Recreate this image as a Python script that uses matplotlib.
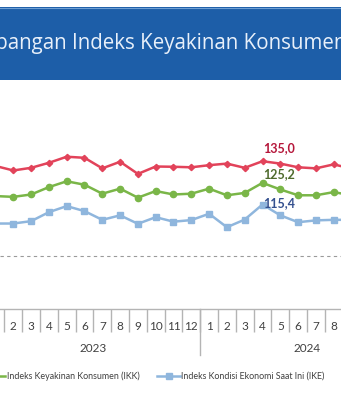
import matplotlib
matplotlib.use("Agg")
import matplotlib.pyplot as plt
from matplotlib.patches import Rectangle
from matplotlib.lines import Line2D

# months Jan 2023 .. Sep 2024
month_labels = [str(m) for m in range(1, 13)] + [str(m) for m in range(1, 13)]
years = ["2023", "2024"]

iek = [134.1, 132.4, 133.4, 135.3, 137.6, 137.2, 133.2, 135.7, 131.1, 133.9, 133.8, 133.6,
       134.4, 135.0, 133.4, 135.9, 135.0, 133.6, 133.2, 134.7, 133.1]
ikk = [122.7, 122.4, 123.3, 126.1, 128.3, 127.0, 123.6, 125.5, 122.1, 124.6, 123.3, 123.6,
       125.5, 123.0, 123.9, 127.7, 125.2, 123.0, 123.0, 124.2, 123.0]
ike = [112.3, 112.3, 113.2, 116.6, 118.9, 117.0, 113.7, 115.4, 112.2, 114.7, 113.0, 113.6,
       116.0, 110.9, 113.8, 119.5, 115.4, 112.8, 113.5, 113.7, 113.7]

labelled_idx = 16  # Mei 2024
threshold = 100

W, H = 341, 400
fig = plt.figure(figsize=(W / 100, H / 100), dpi=100)
fig.patch.set_facecolor("white")

def fx(px):
    return px / W

def fy(py):
    return 1 - py / H

# title banner
fig.patches.append(Rectangle((0, fy(80)), 1, fy(7) - fy(80), transform=fig.transFigure,
                             facecolor="#1d5ea8", edgecolor="none"))
fig.lines.append(Line2D([0, 1], [fy(7.5), fy(7.5)], transform=fig.transFigure,
                        color="#6f9fd3", lw=0.8))

title_font = dict(fontsize=14.8, family="Open Sans", color="#e8f0fa")
r = fig.canvas.get_renderer()
t1 = fig.text(0, 0, "Perkembangan Indeks", **title_font)
t2 = fig.text(0, 0, "Indeks", **title_font)
pre_w = t1.get_window_extent(r).width - t2.get_window_extent(r).width
t1.remove()
t2.remove()
fig.text(fx(71.7 - pre_w), fy(44), "Perkembangan Indeks Keyakinan Konsumen",
         va="center", ha="left", **title_font)

# chart area
ax_top, ax_bot = 100, 308.8
ax = fig.add_axes([0, fy(ax_bot), 1, fy(ax_top) - fy(ax_bot)])
x = list(range(len(iek)))
ax.plot(x, iek, color="#e2435a", lw=1.8, marker="D", ms=3.2)
ax.plot(x, ikk, color="#7ab648", lw=1.8, marker="o", ms=4.5)
ax.plot(x, ike, color="#8fb6dd", lw=1.8, marker="s", ms=4.2)
ax.axhline(threshold, color="#9a9a9a", lw=0.8, ls=(0, (3, 3)))

ax.text(x[labelled_idx] - 0.05, iek[labelled_idx] + 6.0, f"{iek[labelled_idx]:.1f}".replace(".", ","),
        color="#b5163a", fontsize=9, family="Lato", ha="center", va="center", fontweight="bold")
ax.text(x[labelled_idx] - 0.05, ikk[labelled_idx] + 6.0, f"{ikk[labelled_idx]:.1f}".replace(".", ","),
        color="#4f6b2d", fontsize=9, family="Lato", ha="center", va="center", fontweight="bold")
ax.text(x[labelled_idx] - 0.05, ike[labelled_idx] + 4.8, f"{ike[labelled_idx]:.1f}".replace(".", ","),
        color="#34508f", fontsize=9, family="Lato", ha="center", va="center", fontweight="bold")

scale = 2.64  # px per unit
for s in ["top", "left", "right"]:
    ax.spines[s].set_visible(False)
ax.spines["bottom"].set_color("#b4b4b4")
ax.spines["bottom"].set_linewidth(1.0)

bounds = [i - 0.5 for i in range(len(month_labels) + 1)]
ax.set_xticks(bounds)
ax.set_xticklabels([])
ax.tick_params(axis="x", which="major", length=16.5, width=1.0, color="#b4b4b4", direction="out")
ax.set_xticks(range(len(month_labels)), minor=True)
ax.set_xticklabels(month_labels, minor=True, fontsize=8.5, family="Lato", color="#404040")
ax.tick_params(axis="x", which="minor", length=0, pad=8.5)
ax.set_yticks([])
ax.set_xlim(0.253, 19.41)
ax.set_ylim(80, 80 + (ax_bot - ax_top) / scale)

tr = ax.get_xaxis_transform()
h = ax_bot - ax_top
ax.plot([11.5, 11.5], [0, -(355 - ax_bot) / h], transform=tr, color="#b4b4b4", lw=1.0, clip_on=False)
ax.text(5.5, -(349 - ax_bot) / h, years[0], transform=tr, ha="center", va="center",
        fontsize=8.5, family="Lato", color="#404040")
ax.text(17.5, -(349 - ax_bot) / h, years[1], transform=tr, ha="center", va="center",
        fontsize=8.5, family="Lato", color="#404040")

# legend drawn by hand (partly off the picture as in the crop)
ly = fy(376)
fig.lines.append(Line2D([fx(-20), fx(5)], [ly, ly], transform=fig.transFigure, color="#7ab648",
                        lw=1.8))
fig.lines.append(Line2D([fx(-7)], [ly], transform=fig.transFigure, color="#7ab648",
                        marker="o", ms=4.5))
fig.text(fx(7), ly, "Indeks Keyakinan Konsumen (IKK)", fontsize=6.4, family="Lato",
         color="#404040", va="center")
fig.lines.append(Line2D([fx(157), fx(180)], [ly, ly], transform=fig.transFigure, color="#8fb6dd",
                        lw=1.8))
fig.lines.append(Line2D([fx(168.5)], [ly], transform=fig.transFigure, color="#8fb6dd",
                        marker="s", ms=4.2))
fig.text(fx(181), ly, "Indeks Kondisi Ekonomi Saat Ini (IKE)", fontsize=6.4, family="Lato",
         color="#404040", va="center")

fig.savefig("out.png", dpi=100)
